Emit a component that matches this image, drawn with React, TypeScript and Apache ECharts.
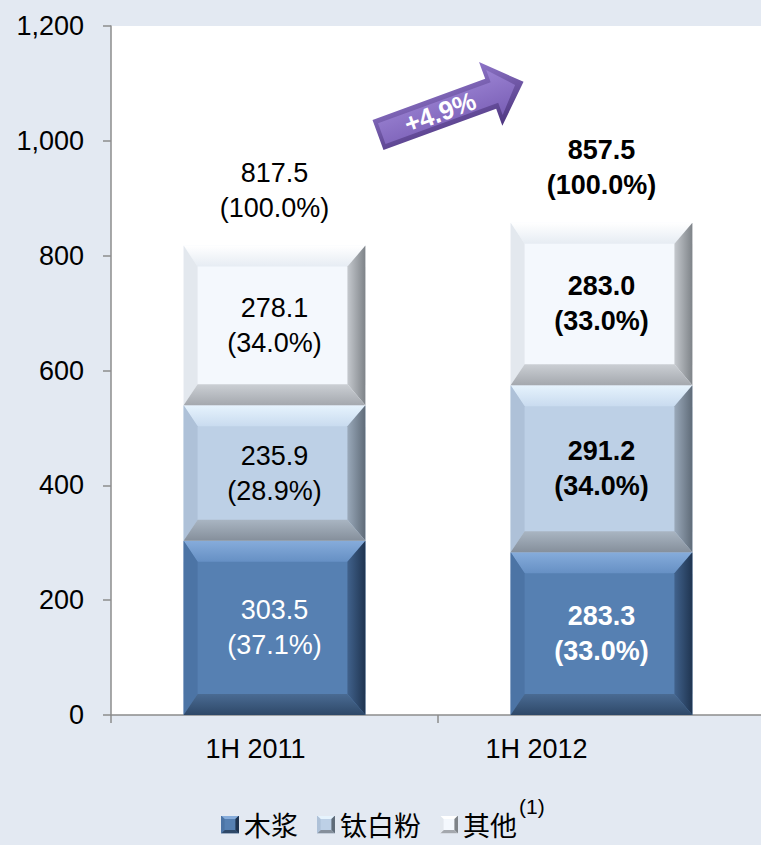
import React, { useEffect, useRef } from "react";
import * as echarts from "echarts";

const categories = ["1H 2011", "1H 2012"];
const seriesNames = ["木浆", "钛白粉", "其他"];
const pulp = [303.5, 283.3];
const pulpPct = ["37.1%", "33.0%"];
const tio2 = [235.9, 291.2];
const tio2Pct = ["28.9%", "34.0%"];
const other = [278.1, 283.0];
const otherPct = ["34.0%", "33.0%"];
const totals = [817.5, 857.5];
const totalPct = ["100.0%", "100.0%"];
const boldCategory = [false, true];
const growthText = "+4.9%";
const yTicks = { min: 0, max: 1200, interval: 200 };

const NUM_FONT = '"Liberation Sans", Arial, sans-serif';
const CJK_FONT = '"Noto Sans CJK SC", "Noto Sans", sans-serif';

type Pal = { face: string; top: [string, string]; left: string; right: [string, string]; bottom: [string, string]; label: string };

const palettes: Pal[] = [
  { face: "#5680B2", top: ["#86ACDB", "#6690C4"], left: "#4C74A5", right: ["#41628C", "#1F3450"], bottom: ["#4A6B93", "#2E4868"], label: "#FFFFFF" },
  { face: "#BDD0E6", top: ["#E6F3FD", "#C9DBEF"], left: "#AEC1D8", right: ["#9AA9BA", "#5F6B78"], bottom: ["#A9B5C2", "#858F9B"], label: "#000000" },
  { face: "#F4F8FD", top: ["#FFFFFF", "#E6ECF3"], left: "#E3E8EE", right: ["#C5C9CE", "#7E8388"], bottom: ["#CBCFD4", "#A4A8AE"], label: "#000000" },
];

const values = [pulp, tio2, other];
const pcts = [pulpPct, tio2Pct, otherPct];

function iconFor(p: Pal) {
  const svg = `<svg xmlns='http://www.w3.org/2000/svg' width='15' height='15' viewBox='0 0 15 15'><rect width='15' height='15' fill='${p.face}'/><polygon points='0,0 15,0 12,3 3,3' fill='${p.top[0]}'/><polygon points='15,0 15,15 12,12 12,3' fill='${p.right[1]}'/><polygon points='0,15 15,15 12,12 3,12' fill='${p.bottom[1]}'/><polygon points='0,0 0,15 3,12 3,3' fill='${p.left}'/></svg>`;
  return "image://data:image/svg+xml;charset=utf-8," + encodeURIComponent(svg);
}

function lin(x: number, y: number, x2: number, y2: number, c0: string, c1: string) {
  return new echarts.graphic.LinearGradient(x, y, x2, y2, [
    { offset: 0, color: c0 },
    { offset: 1, color: c1 },
  ]);
}

export default function App() {
  const ref = useRef<HTMLDivElement>(null);
  useEffect(() => {
    document.body.style.margin = "0";
    const chart = echarts.init(ref.current!, undefined, { renderer: "svg" });

    const stackSeries = seriesNames.map((name, si) => {
      const data = categories.map((_, ci) => {
        let base = 0;
        for (let k = 0; k < si; k++) base += values[k][ci];
        return [ci, base, base + values[si][ci]];
      });
      const pal = palettes[si];
      return {
        type: "custom",
        name,
        itemStyle: { color: pal.face },
        encode: { x: 0, y: [1, 2] },
        data,
        renderItem: (params: any, api: any) => {
          const ci = api.value(0);
          const base = api.value(1);
          const top = api.value(2);
          const p0 = api.coord([ci, base]);
          const p1 = api.coord([ci, top]);
          const w = api.size([1, 0])[0] * 0.556;
          const x0 = p0[0] - w / 2;
          const y0 = p1[1];
          const h = p0[1] - p1[1];
          const bt = 21, bb = 21, bl = 14, br = 18;
          const xl = x0 + bl, xr = x0 + w - br, yt = y0 + bt, yb = y0 + h - bb;
          const idx = params.dataIndex;
          const bold = boldCategory[idx];
          return {
            type: "group",
            children: [
              { type: "rect", shape: { x: x0, y: y0, width: w, height: h }, style: { fill: pal.face } },
              { type: "polygon", shape: { points: [[x0, y0], [x0 + w, y0], [xr, yt], [xl, yt]] }, style: { fill: lin(0, 0, 0, 1, pal.top[0], pal.top[1]) } },
              { type: "polygon", shape: { points: [[x0, y0], [x0, y0 + h], [xl, yb], [xl, yt]] }, style: { fill: pal.left } },
              { type: "polygon", shape: { points: [[x0 + w, y0], [x0 + w, y0 + h], [xr, yb], [xr, yt]] }, style: { fill: lin(0, 0, 1, 0, pal.right[0], pal.right[1]) } },
              { type: "polygon", shape: { points: [[x0, y0 + h], [x0 + w, y0 + h], [xr, yb], [xl, yb]] }, style: { fill: lin(0, 0, 0, 1, pal.bottom[0], pal.bottom[1]) } },
              {
                type: "text",
                x: p0[0],
                y: y0 + h / 2,
                style: {
                  text: `${values[si][idx].toFixed(1)}\n(${pcts[si][idx]})`,
                  fill: pal.label,
                  fontSize: 27,
                  fontWeight: bold ? "bold" : "normal",
                  fontFamily: NUM_FONT,
                  lineHeight: 35,
                  align: "center",
                  verticalAlign: "middle",
                },
              },
            ],
          };
        },
      };
    });

    const totalSeries = {
      type: "custom",
      name: "total",
      encode: { x: 0, y: 1 },
      data: categories.map((_, ci) => [ci, totals[ci]]),
      renderItem: (params: any, api: any) => {
        const ci = api.value(0);
        const p = api.coord([ci, api.value(1)]);
        const idx = params.dataIndex;
        return {
          type: "text",
          x: p[0],
          y: p[1] - 20,
          style: {
            text: `${totals[idx].toFixed(1)}\n(${totalPct[idx]})`,
            fill: "#000",
            fontSize: 27,
            fontWeight: boldCategory[idx] ? "bold" : "normal",
            fontFamily: NUM_FONT,
            lineHeight: 35,
            align: "center",
            verticalAlign: "bottom",
          },
        };
      },
    };

    const option: any = {
      animation: false,
      backgroundColor: "#E3E9F2",
      grid: {
        left: 111,
        right: -4,
        top: 26,
        bottom: 130,
        show: true,
        backgroundColor: "#FFFFFF",
        borderWidth: 0,
        containLabel: false,
        outerBoundsMode: "none",
      },
      legend: {
        data: seriesNames.map((n, i) => ({ name: n, icon: iconFor(palettes[i]) })),
        left: 216,
        top: 806,
        itemWidth: 18,
        itemHeight: 18,
        itemGap: 19,
        selectedMode: false,
        textStyle: { fontSize: 27, fontFamily: CJK_FONT, color: "#000" },
      },
      xAxis: {
        type: "category",
        data: categories,
        axisLine: { show: true, lineStyle: { color: "#8C8C8C", width: 1.5 } },
        axisTick: { show: true, length: 8, lineStyle: { color: "#8C8C8C", width: 1.5 } },
        axisLabel: {
          margin: 20,
          formatter: (v: string, i: number) => (i === 0 ? `{a|${v}}` : `{b|${v}}`),
          rich: {
            a: { fontSize: 27, fontFamily: NUM_FONT, color: "#000", padding: [0, 38, 0, 0] },
            b: { fontSize: 27, fontFamily: NUM_FONT, color: "#000", padding: [0, 130, 0, 0] },
          },
        },
      },
      yAxis: {
        type: "value",
        min: yTicks.min,
        max: yTicks.max,
        interval: yTicks.interval,
        splitLine: { show: false },
        axisLine: { show: true, lineStyle: { color: "#8C8C8C", width: 1.5 } },
        axisTick: { show: true, length: 8, lineStyle: { color: "#8C8C8C", width: 1.5 } },
        axisLabel: {
          margin: 27,
          fontSize: 27,
          fontFamily: NUM_FONT,
          color: "#000",
          formatter: (v: number) => v.toLocaleString("en-US"),
        },
      },
      graphic: [
        {
          type: "group",
          x: 378,
          y: 135,
          rotation: 0.35,
          children: [
            {
              type: "polygon",
              shape: { points: [[0, -16], [120, -16], [120, -34], [155, 0], [120, 34], [120, 16], [0, 16]] },
              style: { fill: lin(0, 0, 0, 1, "#8E75C8", "#4E3680") },
            },
            {
              type: "polygon",
              shape: { points: [[4, -11], [124, -11], [124, -24], [146, 0], [124, 24], [124, 11], [4, 11]] },
              style: { fill: lin(0, 0, 0, 1, "#9A82D2", "#7A5FB6") },
            },
            {
              type: "text",
              x: 66,
              y: 0,
              style: {
                text: growthText,
                fill: "#FFFFFF",
                fontSize: 26,
                fontWeight: "bold",
                fontFamily: NUM_FONT,
                align: "center",
                verticalAlign: "middle",
              },
            },
          ],
        },
        {
          type: "text",
          left: 519,
          top: 796,
          style: { text: "(1)", fill: "#000", fontSize: 21, fontFamily: NUM_FONT },
        },
      ],
      series: [...stackSeries, totalSeries],
    };
    chart.setOption(option);
    return () => chart.dispose();
  }, []);
  return <div ref={ref} style={{ width: 761, height: 845 }} />;
}
